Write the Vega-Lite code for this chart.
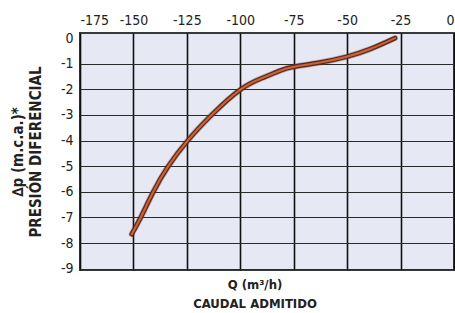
{
  "$schema": "https://vega.github.io/schema/vega-lite/v6.json",
  "width": 374,
  "height": 237,
  "autosize": "none",
  "padding": {"left": 80, "top": 33, "right": 1, "bottom": 43},
  "background": "white",
  "config": {
    "view": {"fill": "#e6e8f4", "stroke": "#3a3a3a", "strokeWidth": 2},
    "font": "DejaVu Sans Condensed, DejaVu Sans, sans-serif"
  },
  "title": {
    "text": ["Q (m³/h)", "CAUDAL ADMITIDO"],
    "orient": "bottom",
    "anchor": "middle",
    "dx": -12,
    "offset": 3,
    "font": "DejaVu Sans Condensed, DejaVu Sans, sans-serif",
    "fontSize": 13,
    "fontWeight": "bold",
    "color": "#222",
    "lineHeight": 19
  },
  "data": {
    "values": [
      {"q": -150.8, "p": -7.65},
      {"q": -146.6, "p": -7.0},
      {"q": -140.7, "p": -6.0},
      {"q": -133.7, "p": -5.0},
      {"q": -124.6, "p": -4.0},
      {"q": -113.4, "p": -3.0},
      {"q": -99.8, "p": -2.0},
      {"q": -89.2, "p": -1.54},
      {"q": -81.4, "p": -1.27},
      {"q": -75, "p": -1.12},
      {"q": -62.7, "p": -0.95},
      {"q": -50, "p": -0.72},
      {"q": -39.3, "p": -0.43},
      {"q": -27.6, "p": 0.0}
    ]
  },
  "encoding": {
    "x": {
      "field": "q",
      "type": "quantitative",
      "scale": {"domain": [-175, 0], "nice": false, "zero": false},
      "axis": {
        "orient": "top",
        "title": null,
        "values": [-175, -150, -125, -100, -75, -50, -25, 0],
        "labelExpr": "'' + datum.value",
        "ticks": false,
        "domain": false,
        "labelPadding": 6,
        "labelFontSize": 14,
        "labelColor": "#222",
        "labelFlush": true,
        "gridColor": "#111",
        "gridWidth": 1.6,
        "gridOpacity": 1
      }
    },
    "y": {
      "field": "p",
      "type": "quantitative",
      "scale": {"domain": [-9.05, 0.2], "nice": false, "zero": false},
      "axis": {
        "title": ["∆p (m.c.a.)*", "PRESIÓN DIFERENCIAL"],
        "titleFontSize": 15,
        "titleFontWeight": "bold",
        "titleColor": "#222",
        "titleLineHeight": 18,
        "titlePadding": 17,
        "values": [-9, -8, -7, -6, -5, -4, -3, -2, -1, 0],
        "labelExpr": "'' + datum.value",
        "ticks": false,
        "domain": false,
        "labelPadding": 7,
        "labelFontSize": 14,
        "labelColor": "#222",
        "labelFlush": false,
        "gridColor": {"condition": {"test": "datum.value === 0", "value": "transparent"}, "value": "#2a2a2a"},
        "gridWidth": 1.2,
        "gridOpacity": 1
      }
    }
  },
  "layer": [
    {
      "mark": {"type": "line", "interpolate": "natural", "stroke": "#6b3a2a", "strokeWidth": 6, "opacity": 0.4, "strokeCap": "round"}
    },
    {
      "mark": {"type": "line", "interpolate": "natural", "stroke": "#5e2414", "strokeWidth": 4.5, "strokeCap": "round"}
    },
    {
      "mark": {"type": "line", "interpolate": "natural", "stroke": "#c4643d", "strokeWidth": 2.2, "strokeCap": "round"}
    }
  ]
}
